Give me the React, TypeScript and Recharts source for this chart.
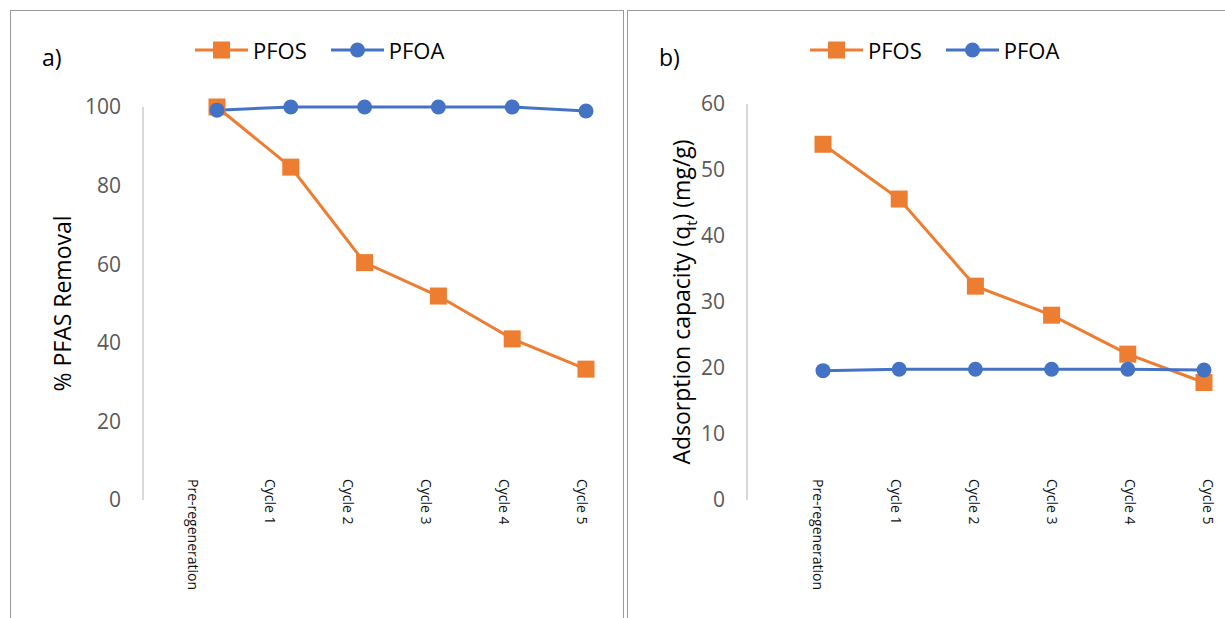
import React from "react";
import { LineChart, Line, XAxis, YAxis, Legend } from "recharts";

const cycles = ["Pre-regeneration", "Cycle 1", "Cycle 2", "Cycle 3", "Cycle 4", "Cycle 5"];
const seriesNames = ["PFOS", "PFOA"];

// % removal per regeneration cycle
const removalPFOS = [100, 84.7, 60.4, 51.9, 41.0, 33.3];
const removalPFOA = [99.2, 100, 100, 100, 100, 99.0];
const removalTicks = [0, 20, 40, 60, 80, 100];

// adsorption capacity qt (mg/g)
const capacityPFOS = [53.9, 45.6, 32.4, 28.0, 22.1, 17.8];
const capacityPFOA = [19.6, 19.8, 19.8, 19.8, 19.8, 19.7];
const capacityTicks = [0, 10, 20, 30, 40, 50, 60];

const ORANGE = "#ED7D31";
const BLUE = "#4472C4";
const FONT = '"Open Sans", "Noto Sans", sans-serif';

const removalData = cycles.map((cycle, i) => ({
  cycle,
  pfos: removalPFOS[i],
  pfoa: removalPFOA[i],
}));
const capacityData = cycles.map((cycle, i) => ({
  cycle,
  pfos: capacityPFOS[i],
  pfoa: capacityPFOA[i],
}));

const SquareDot = (props: any) => {
  const { cx, cy, fill } = props;
  if (cx == null || cy == null) return null;
  return <rect x={cx - 8.5} y={cy - 8.5} width={17} height={17} fill={fill} />;
};

const RoundDot = (props: any) => {
  const { cx, cy, fill } = props;
  if (cx == null || cy == null) return null;
  return <circle cx={cx} cy={cy} r={7.5} fill={fill} />;
};

// vertical category labels, reading top to bottom
const CycleTick = (props: any) => {
  const { x, y, payload } = props;
  return (
    <text
      transform={`translate(${x},${y - 21}) rotate(90)`}
      textAnchor="start"
      dominantBaseline="central"
      fontSize={14}
      fill="#111"
    >
      {payload.value}
    </text>
  );
};

const markers: Record<string, "square" | "circle"> = { PFOS: "square", PFOA: "circle" };

const SeriesLegend = (props: any) => {
  const { payload = [] } = props;
  const items = [...payload].sort(
    (a: any, b: any) => seriesNames.indexOf(a.value) - seriesNames.indexOf(b.value)
  );
  return (
    <div style={{ display: "flex", alignItems: "center" }}>
      {items.map((entry: any) => (
        <div
          key={entry.value}
          style={{ display: "flex", alignItems: "center", marginRight: 24 }}
        >
          <svg width={53} height={24}>
            <line x1={0} y1={12} x2={53} y2={12} stroke={entry.color} strokeWidth={3} />
            {markers[entry.value] === "square" ? (
              <rect x={18} y={3.5} width={17} height={17} fill={entry.color} />
            ) : (
              <circle cx={26.5} cy={12} r={7.5} fill={entry.color} />
            )}
          </svg>
          <span style={{ fontSize: 22, color: "#000", marginLeft: 5, lineHeight: "30px" }}>
            {entry.value}
          </span>
        </div>
      ))}
    </div>
  );
};

const AxisTitle = ({ viewBox, cx, children }: any) => {
  const cy = viewBox.y + viewBox.height / 2;
  return (
    <text
      transform={`translate(${cx},${cy}) rotate(-90)`}
      textAnchor="middle"
      dominantBaseline="central"
      fontSize={23}
      fill="#000"
    >
      {children}
    </text>
  );
};

interface PanelProps {
  data: { cycle: string; pfos: number; pfoa: number }[];
  ticks: number[];
  max: number;
  left: number;
  width: number;
  tag: string;
  margin: { top: number; right: number; bottom: number; left: number };
  dataPadding: { left: number; right: number };
  labelPadding: { left: number; right: number };
  titleX: number;
  title: React.ReactNode;
  legendLeft: number;
}

const Panel: React.FC<PanelProps> = ({
  data,
  ticks,
  max,
  left,
  width,
  tag,
  margin,
  dataPadding,
  labelPadding,
  titleX,
  title,
  legendLeft,
}) => (
  <div
    style={{
      position: "absolute",
      left,
      top: 10,
      width,
      height: 640,
      border: "1px solid #9a9a9a",
      background: "#fff",
    }}
  >
    <div style={{ position: "absolute", left: 31, top: 30, fontSize: 23, color: "#000" }}>{tag}</div>
    <LineChart width={width} height={620} data={data} margin={margin}>
      <XAxis xAxisId="data" dataKey="cycle" hide height={0} padding={dataPadding} />
      <XAxis
        xAxisId="labels"
        dataKey="cycle"
        padding={labelPadding}
        axisLine={false}
        tickLine={false}
        tickSize={0}
        tickMargin={0}
        interval={0}
        height={131}
        tick={<CycleTick />}
      />
      <YAxis
        domain={[0, max]}
        ticks={ticks}
        tickLine={false}
        tickSize={0}
        tickMargin={22}
        width={80}
        axisLine={{ stroke: "#d9d9d9", strokeWidth: 2 }}
        tick={{ fill: "#595959", fontSize: 21 }}
        label={(p: any) => (
          <AxisTitle viewBox={p.viewBox} cx={titleX}>
            {title}
          </AxisTitle>
        )}
      />
      <Legend
        layout="horizontal"
        verticalAlign="middle"
        align="center"
        wrapperStyle={{ left: legendLeft, top: 24, width: "auto" }}
        content={(p: any) => <SeriesLegend {...p} />}
      />
      <Line
        xAxisId="data"
        dataKey="pfos"
        name="PFOS"
        stroke={ORANGE}
        fill={ORANGE}
        strokeWidth={3}
        dot={<SquareDot />}
        activeDot={false}
        isAnimationActive={false}
      />
      <Line
        xAxisId="data"
        dataKey="pfoa"
        name="PFOA"
        stroke={BLUE}
        fill={BLUE}
        strokeWidth={3}
        dot={<RoundDot />}
        activeDot={false}
        isAnimationActive={false}
      />
    </LineChart>
  </div>
);

export default function App() {
  return (
    <div
      style={{
        position: "absolute",
        left: 0,
        top: 0,
        width: 1225,
        height: 618,
        overflow: "hidden",
        background: "#fff",
        fontFamily: FONT,
      }}
    >
      <Panel
        data={removalData}
        ticks={removalTicks}
        max={100}
        left={10}
        width={612}
        tag="a)"
        margin={{ top: 96, right: 37, bottom: 0, left: 52 }}
        dataPadding={{ left: 74, right: 0 }}
        labelPadding={{ left: 50, right: 4 }}
        titleX={51}
        title="% PFAS Removal"
        legendLeft={184}
      />
      <Panel
        data={capacityData}
        ticks={capacityTicks}
        max={60}
        left={627}
        width={600}
        tag="b)"
        margin={{ top: 93, right: 20, bottom: 0, left: 39 }}
        dataPadding={{ left: 76, right: 4 }}
        labelPadding={{ left: 71, right: 0 }}
        titleX={53}
        title={
          <>
            Adsorption capacity (q
            <tspan baselineShift="sub" fontSize={15}>
              t
            </tspan>
            <tspan>) (mg/g)</tspan>
          </>
        }
        legendLeft={182}
      />
    </div>
  );
}
